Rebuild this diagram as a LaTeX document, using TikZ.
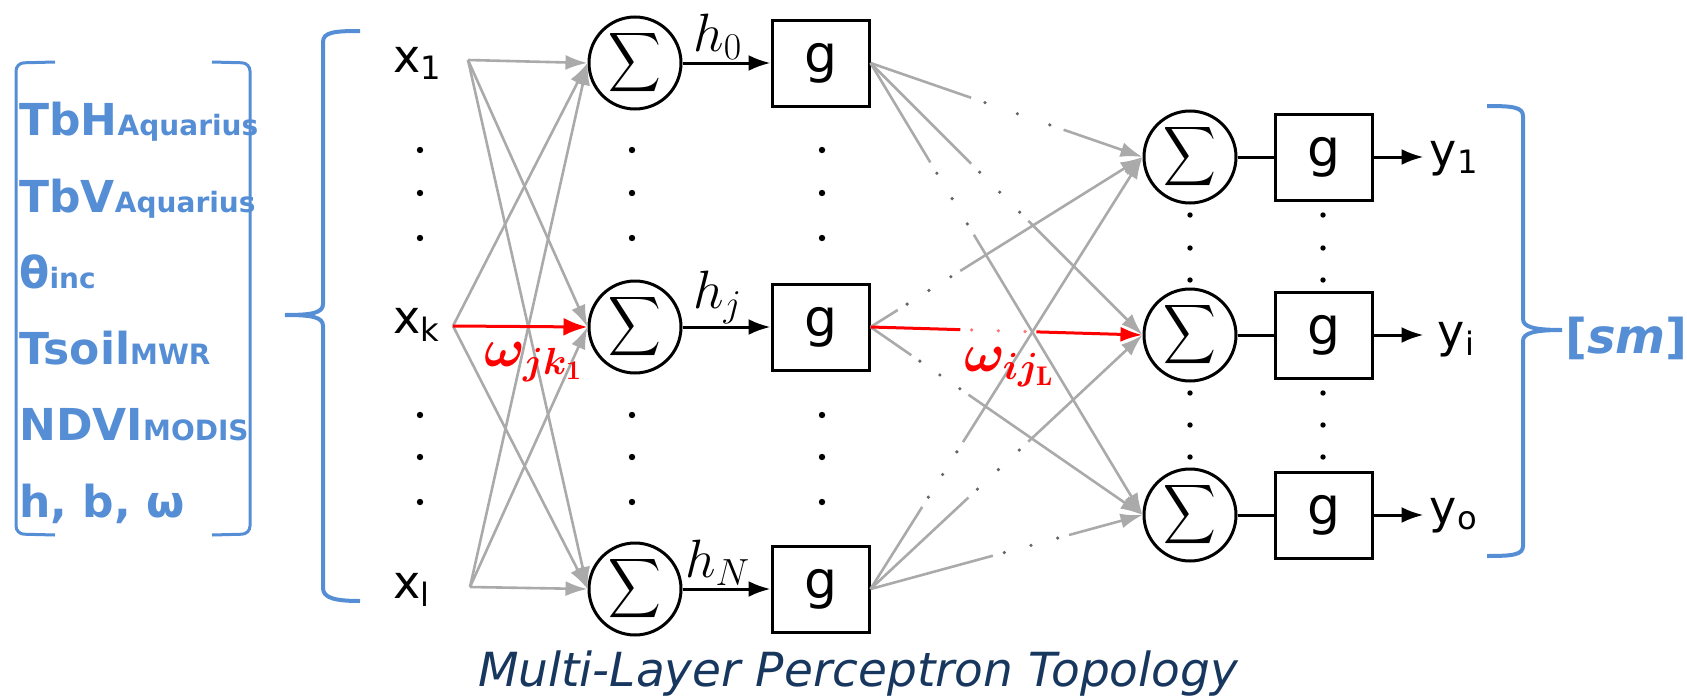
\RequirePackage{fix-cm}
\documentclass[tikz,border=0pt]{standalone}
\usepackage{amsmath,bm}
\usepackage{fontspec}
\newfontfamily\dejavu{DejaVu Sans}
\usepackage{tikz}
\usetikzlibrary{arrows.meta,positioning,calc}
\definecolor{varblue}{RGB}{85,142,213}
\definecolor{capnavy}{RGB}{23,55,94}
\definecolor{linkgray}{RGB}{170,170,170}

\newcommand\low[1]{{\fontsize{14}{14}\selectfont #1}}
\newcommand\sig{\scalebox{0.88}[1]{$\displaystyle\sum$}}
% link with a dotted gap: style, from, to, gap start, gap end
\newcommand\dotlink[5]{%
  \draw[#1] (#2) -- ($(#2)!#4!(#3)$);
  \pgfmathsetmacro\da{#4+(#5-#4)*0.15}%
  \pgfmathsetmacro\db{(#4+#5)/2}%
  \pgfmathsetmacro\dc{#5-(#5-#4)*0.15}%
  \foreach \t in {\da,\db,\dc} \fill[#1dot] ($(#2)!\t!(#3)$) circle (1.8);
  \draw[#1,-{Latex[length=11pt,width=7.5pt]}] ($(#2)!#5!(#3)$) -- (#3);}

\begin{document}
\begin{tikzpicture}[x=0.5pt,y=-0.5pt,
    sumnode/.style={circle,draw,line width=1.5pt,minimum size=46pt,inner sep=0pt,font=\fontsize{21}{21}\selectfont},
    gbox/.style={draw,line width=1.5pt,minimum width=48.5pt,minimum height=43pt,inner sep=0pt,font=\dejavu\fontsize{26}{26}\selectfont},
    lbl/.style={inner sep=0pt,font=\dejavu\fontsize{23}{23}\selectfont},
    hlbl/.style={inner sep=1pt,font=\fontsize{27}{27}\selectfont},
    var/.style={inner sep=0pt,anchor=base west,text=varblue,font=\dejavu\bfseries\fontsize{22}{22}\selectfont},
    arr/.style={line width=1.5pt,-{Latex[length=11pt,width=8pt]}},
    glink/.style={draw=linkgray,line width=1.3pt},
    glinkdot/.style={fill=black!60},
    rlink/.style={draw=red,line width=1.5pt},
    rlinkdot/.style={fill=red!55},
    brc/.style={draw=varblue,line width=2pt},
    wlbl/.style={inner sep=0pt,text=red,font=\fontsize{27}{27}\selectfont}]
  \useasboundingbox (0,0) rectangle (1687,696);

  % input variables
  \node[var] (v1) at (19,135) {TbH\low{Aquarius}};
  \node[var] (v2) at (19,212) {TbV\low{Aquarius}};
  \node[var] (v3) at (19,288) {θ\low{inc}};
  \node[var] (v4) at (19,364) {Tsoil\low{MWR}};
  \node[var] (v5) at (19,440) {NDVI\low{MODIS}};
  \node[var] (v6) at (19,517) {h, b, ω};
  \draw[varblue,line width=1.5pt,rounded corners=4pt] (55,62) -- (16,63) -- (16,534) -- (55,535);
  \draw[varblue,line width=1.5pt,rounded corners=4pt] (212,62) -- (250,63) -- (250,534) -- (212,535);
  \draw[brc] (360,31) .. controls (335,31) and (323,32) .. (323,42) -- (323,304)
    .. controls (323,313) and (312,315) .. (285,315) .. controls (312,315) and (323,317) .. (323,326)
    -- (323,588) .. controls (323,598) and (335,601) .. (360,601);

  % hidden layer
  \node[sumnode] (s0) at (635,63) {\sig};
  \node[sumnode] (sj) at (635,327) {\sig};
  \node[sumnode] (sN) at (635,589) {\sig};
  \node[gbox,right=44pt of s0] (g0) {g};
  \node[gbox,right=44pt of sj] (gj) {g};
  \node[gbox,right=44pt of sN] (gN) {g};
  \draw[arr] (s0) -- node[hlbl,pos=0.4,above]{$h_0$} (g0);
  \draw[arr] (sj) -- node[hlbl,pos=0.4,above]{$h_j$} (gj);
  \draw[arr] (sN) -- node[hlbl,pos=0.4,above]{$h_N$} (gN);

  % inputs
  \node[lbl,anchor=base west] (x1) at (393,72) {x\textsubscript{1}};
  \node[lbl,anchor=base west] (xk) at (393,333) {x\textsubscript{k}};
  \node[lbl,anchor=base west] (xl) at (393,598) {x\textsubscript{l}};
  \coordinate (in1) at (468,60);
  \coordinate (ink) at (453,326);
  \coordinate (inl) at (470,587);
  \draw[glink,-{Latex[length=11pt,width=7.5pt]}] (in1) -- (s0.west);
  \draw[glink,-{Latex[length=11pt,width=7.5pt]}] (in1) -- (sj.west);
  \draw[glink,-{Latex[length=11pt,width=7.5pt]}] (in1) -- (sN.west);
  \draw[glink,-{Latex[length=11pt,width=7.5pt]}] (ink) -- (s0.west);
  \draw[glink,-{Latex[length=11pt,width=7.5pt]}] (ink) -- (sN.west);
  \draw[glink,-{Latex[length=11pt,width=7.5pt]}] (inl) -- (s0.west);
  \draw[glink,-{Latex[length=11pt,width=7.5pt]}] (inl) -- (sj.west);
  \draw[glink,-{Latex[length=11pt,width=7.5pt]}] (inl) -- (sN.west);
  \draw[rlink,-{Latex[length=12pt,width=9pt]}] (ink) -- node[wlbl,pos=0.6,below=7pt]{$\bm{\omega_{jk_1}}$} (sj.west);

  % output layer
  \node[sumnode] (out1) at (1190,157) {\sig};
  \node[sumnode] (outi) at (1190,335) {\sig};
  \node[sumnode] (outo) at (1190,515) {\sig};
  \node[gbox,right=18pt of out1] (go1) {g};
  \node[gbox,right=18pt of outi] (goi) {g};
  \node[gbox,right=18pt of outo] (goo) {g};
  \draw[line width=1.5pt] (out1) -- (go1);
  \draw[line width=1.5pt] (outi) -- (goi);
  \draw[line width=1.5pt] (outo) -- (goo);
  \coordinate[right=25pt of go1] (y1);
  \coordinate[right=25pt of goi] (yi);
  \coordinate[right=25pt of goo] (yo);
  \draw[arr] (go1) -- (y1);
  \draw[arr] (goi) -- (yi);
  \draw[arr] (goo) -- (yo);
  \node[lbl,anchor=base west] (ly1) at ([xshift=3pt,yshift=-4.5pt]y1) {y\textsubscript{1}};
  \node[lbl,anchor=base west] (lyi) at ([xshift=7pt,yshift=-6pt]yi) {y\textsubscript{i}};
  \node[lbl,anchor=base west] (lyo) at ([xshift=3pt,yshift=-4pt]yo) {y\textsubscript{o}};

  % hidden to output
  \dotlink{glink}{g0.east}{out1.west}{0.37}{0.71}
  \dotlink{glink}{g0.east}{outi.west}{0.37}{0.58}
  \dotlink{glink}{g0.east}{outo.west}{0.22}{0.38}
  \dotlink{glink}{gj.east}{out1.west}{0.10}{0.33}
  \dotlink{glink}{gj.east}{outo.west}{0.15}{0.36}
  \dotlink{glink}{gN.east}{out1.west}{0.19}{0.34}
  \dotlink{glink}{gN.east}{outi.west}{0.36}{0.58}
  \dotlink{glink}{gN.east}{outo.west}{0.45}{0.73}
  \dotlink{rlink}{gj.east}{outi.west}{0.33}{0.61}
  \node[wlbl,below=8pt] (wij) at ($(gj.east)!0.51!(outi.west)$) {$\bm{\omega_{ij_{\mathrm{L}}}}$};

  % vertical dots
  \foreach \y in {150,193,238,415,457,502} {
    \fill (420,\y) circle (3.2); \fill (632,\y) circle (3.2); \fill (822,\y) circle (3.2);}
  \foreach \y in {215,248,280,393,425,457} {
    \fill (1190,\y) circle (2.7); \fill (1323,\y) circle (2.7);}

  % output brace
  \draw[brc] (1487,106) .. controls (1512,106) and (1523,107) .. (1523,116) -- (1523,319)
    .. controls (1523,327) and (1534,330) .. (1562,330) .. controls (1534,330) and (1523,333) .. (1523,341)
    -- (1523,546) .. controls (1523,555) and (1512,556) .. (1487,556);
  \node[anchor=base west,inner sep=0pt,text=varblue,font=\dejavu\bfseries\fontsize{24}{24}\selectfont] (sm) at (1565,353) {[\textit{sm}]};

  \node[anchor=base,inner sep=0pt,text=capnavy,font=\dejavu\itshape\fontsize{23.5}{23.5}\selectfont] (cap) at (858,686) {Multi-Layer Perceptron Topology};
\end{tikzpicture}
\end{document}
